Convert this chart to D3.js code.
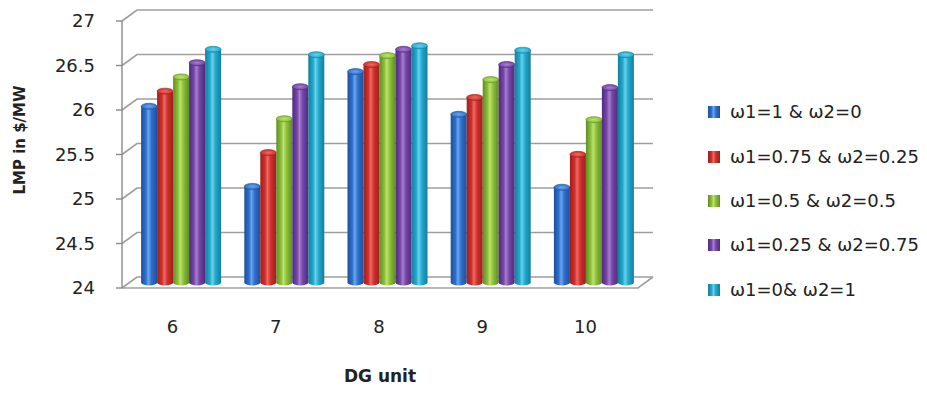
<!DOCTYPE html>
<html>
<head>
<meta charset="utf-8">
<script src="https://cdn.jsdelivr.net/npm/d3@7"></script>
<style>
  html, body { margin: 0; padding: 0; background: #fff; }
  svg { display: block; }
  text { font-family: "DejaVu Sans", "Noto Sans", sans-serif; fill: #222; }
</style>
</head>
<body>
<svg id="chart" width="927" height="393"></svg>
<script>
// DG units on the x axis
const categories = ["6", "7", "8", "9", "10"];
// weighting scenarios (legend entries)
const seriesNames = [
  "ω1=1 & ω2=0",
  "ω1=0.75 & ω2=0.25",
  "ω1=0.5 & ω2=0.5",
  "ω1=0.25 & ω2=0.75",
  "ω1=0& ω2=1"
];
// LMP in $/MW, one array per scenario, ordered by DG unit
const w1_1_w2_0       = [25.98, 25.08, 26.37, 25.89, 25.07];
const w1_075_w2_025   = [26.15, 25.46, 26.45, 26.08, 25.44];
const w1_05_w2_05     = [26.31, 25.84, 26.55, 26.28, 25.83];
const w1_025_w2_075   = [26.47, 26.20, 26.62, 26.45, 26.19];
const w1_0_w2_1       = [26.62, 26.56, 26.66, 26.61, 26.56];
const seriesValues = [w1_1_w2_0, w1_075_w2_025, w1_05_w2_05, w1_025_w2_075, w1_0_w2_1];
const yTicks = [24, 24.5, 25, 25.5, 26, 26.5, 27];

// cylinder colours: [edge/dark, body, highlight]
const palette = [
  ["#1d4f9c", "#2f6fcc", "#6aa6ec"],
  ["#9c1f1c", "#d0302b", "#ee6a64"],
  ["#5f8d22", "#8cbf3a", "#bde26e"],
  ["#4e2a7e", "#7646a8", "#a77fd0"],
  ["#137e9e", "#23a8cc", "#66d2ec"]
];

const svg = d3.select("#chart");
const defs = svg.append("defs");

// plot geometry: front plane and depth offset of the 3-D box
const left = 122, right = 638;
const depthX = 15, depthY = -11;

const y = d3.scaleLinear().domain([24, 27]).range([288, 21]);
const x = d3.scaleBand().domain(categories).range([left, right]);
const xs = d3.scaleBand().domain(d3.range(seriesNames.length)).range([0, 80]);

// gradients for the cylinder bodies and tops
palette.forEach((c, i) => {
  const g = defs.append("linearGradient").attr("id", "body" + i)
    .attr("x1", "0").attr("x2", "1").attr("y1", "0").attr("y2", "0");
  g.append("stop").attr("offset", "0").attr("stop-color", c[0]);
  g.append("stop").attr("offset", "0.3").attr("stop-color", c[1]);
  g.append("stop").attr("offset", "0.45").attr("stop-color", c[2]);
  g.append("stop").attr("offset", "0.65").attr("stop-color", c[1]);
  g.append("stop").attr("offset", "1").attr("stop-color", c[0]);
  const t = defs.append("radialGradient").attr("id", "top" + i);
  t.append("stop").attr("offset", "0").attr("stop-color", c[2]);
  t.append("stop").attr("offset", "1").attr("stop-color", c[1]);
});

// back wall gridlines with their slanted side-wall segments
const grid = svg.append("g").attr("stroke", "#9e9e9e").attr("stroke-width", 1.6).attr("fill", "none");
yTicks.forEach(t => {
  grid.append("path").attr("d",
    `M${left},${y(t)} L${left + depthX},${y(t) + depthY} L${right + depthX},${y(t) + depthY}`);
});
// floor front edge and right side
grid.append("path").attr("d",
  `M${left},${y(24)} L${right},${y(24)} L${right + depthX},${y(24) + depthY}`);

// value axis on the front left edge
const axis = svg.append("g").attr("stroke", "#8a8a8a").attr("stroke-width", 1.4);
axis.append("line").attr("x1", left).attr("x2", left).attr("y1", y(27)).attr("y2", y(24));
yTicks.forEach(t => {
  axis.append("line").attr("x1", left - 6).attr("x2", left).attr("y1", y(t)).attr("y2", y(t));
});
svg.append("g").selectAll("text").data(yTicks).join("text")
  .attr("x", 95).attr("y", d => y(d)).attr("dy", "0.35em")
  .attr("text-anchor", "end").attr("font-size", 18)
  .text(d => d3.format("")(d));

// cylinders, set at mid depth
const midX = depthX / 2, midY = depthY / 2;
const rx = xs.bandwidth() / 2, ry = 3;
const bars = svg.append("g");
categories.forEach((cat, ci) => {
  const gx = x(cat) + (x.bandwidth() - 80) / 2 + midX;
  seriesValues.forEach((vals, si) => {
    const v = vals[ci];
    const x0 = gx + xs(si);
    const yTop = y(v) + midY;
    const yBot = y(24) + midY;
    const g = bars.append("g");
    g.append("path")
      .attr("d", `M${x0},${yTop} L${x0},${yBot} A${rx},${ry} 0 0 0 ${x0 + 2 * rx},${yBot} L${x0 + 2 * rx},${yTop} Z`)
      .attr("fill", `url(#body${si})`);
    g.append("ellipse")
      .attr("cx", x0 + rx).attr("cy", yTop).attr("rx", rx).attr("ry", ry)
      .attr("fill", `url(#top${si})`).attr("stroke", palette[si][0]).attr("stroke-width", 0.6);
  });
});

// category labels
svg.append("g").selectAll("text").data(categories).join("text")
  .attr("x", d => x(d) + x.bandwidth() / 2 - 1).attr("y", 327).attr("dy", "0.35em")
  .attr("text-anchor", "middle").attr("font-size", 18)
  .text(d => d);

// axis titles
svg.append("text").attr("x", 380).attr("y", 376).attr("dy", "0.35em")
  .attr("text-anchor", "middle").attr("font-size", 17).attr("font-weight", "bold")
  .text("DG unit");
svg.append("text").attr("transform", "translate(20,140) rotate(-90)").attr("dy", "0.35em")
  .attr("text-anchor", "middle").attr("font-size", 15).attr("font-weight", "bold")
  .text("LMP in $/MW");

// legend
const legendRows = [112, 157, 201, 245, 290];
const legend = svg.append("g");
seriesNames.forEach((name, i) => {
  const row = legend.append("g").attr("transform", `translate(708,${legendRows[i]})`);
  row.append("rect").attr("x", 0).attr("y", -6).attr("width", 12).attr("height", 12)
    .attr("fill", `url(#body${i})`);
  row.append("text").attr("x", 22).attr("y", 0).attr("dy", "0.35em")
    .attr("font-size", 18).text(name);
});
</script>
</body>
</html>
